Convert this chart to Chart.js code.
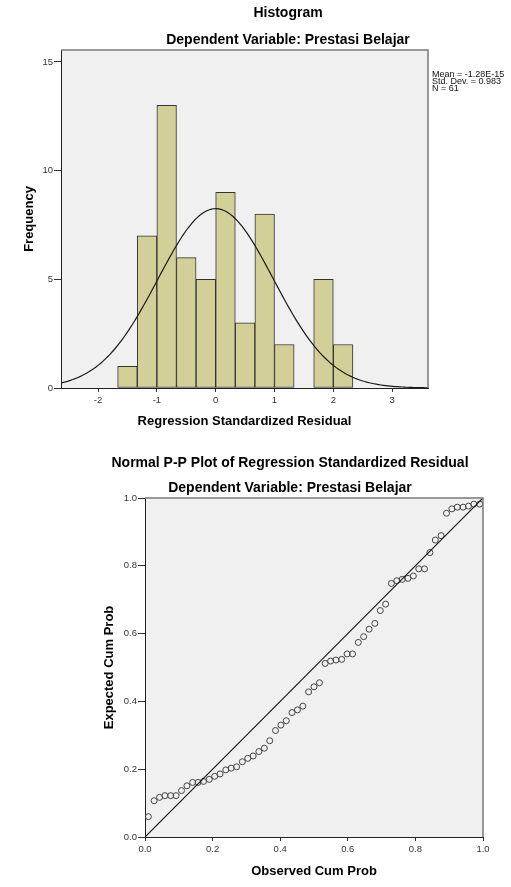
<!DOCTYPE html>
<html>
<head>
<meta charset="utf-8">
<script src="https://cdn.jsdelivr.net/npm/chart.js@4.4.1/dist/chart.umd.min.js"></script>
<style>
body { margin:0; background:#fff; width:511px; height:887px; overflow:hidden; position:relative; }
canvas { position:absolute; left:0; }
#hist { top:0; }
#pp { top:435px; }
</style>
</head>
<body>
<canvas id="hist" width="511" height="435"></canvas>
<canvas id="pp" width="511" height="452"></canvas>
<script>
// Histogram: bar centres and counts
const binCenters = [-1.5, -1.1667, -0.8333, -0.5, -0.1667, 0.1667, 0.5, 0.8333, 1.1667, 1.5, 1.8333, 2.1667];
const frequencies = [1, 7, 13, 6, 5, 9, 3, 8, 2, 0, 5, 2];
const binWidth = 0.3333;
const residTicks = [-2, -1, 0, 1, 2, 3];
const freqTicks = [0, 5, 10, 15];
const mean = -1.28e-15, stdDev = 0.983, nCases = 61;
const statLines = ['Mean = -1.28E-15', 'Std. Dev. = 0.983', 'N = 61'];

// P-P plot: observed vs expected cumulative probability
const observedCum = [0.010, 0.027, 0.043, 0.059, 0.076, 0.092, 0.108, 0.124, 0.141, 0.157,
  0.173, 0.190, 0.206, 0.222, 0.239, 0.255, 0.271, 0.288, 0.304, 0.320,
  0.337, 0.353, 0.369, 0.386, 0.402, 0.418, 0.435, 0.451, 0.467, 0.484,
  0.500, 0.516, 0.533, 0.549, 0.565, 0.582, 0.598, 0.614, 0.631, 0.647,
  0.663, 0.680, 0.696, 0.712, 0.729, 0.745, 0.761, 0.778, 0.794, 0.810,
  0.827, 0.843, 0.859, 0.876, 0.892, 0.908, 0.924, 0.941, 0.957, 0.973, 0.990];
const expectedCum = [0.060, 0.107, 0.117, 0.122, 0.122, 0.122, 0.137, 0.151, 0.161, 0.161,
  0.164, 0.170, 0.179, 0.186, 0.198, 0.203, 0.207, 0.222, 0.232, 0.239,
  0.252, 0.262, 0.284, 0.314, 0.330, 0.343, 0.367, 0.375, 0.386, 0.428,
  0.443, 0.455, 0.512, 0.519, 0.522, 0.524, 0.540, 0.540, 0.574, 0.591,
  0.613, 0.630, 0.668, 0.687, 0.748, 0.756, 0.760, 0.763, 0.770, 0.791,
  0.791, 0.839, 0.876, 0.889, 0.955, 0.968, 0.973, 0.973, 0.976, 0.982, 0.982];
const probTicks = [0, 0.2, 0.4, 0.6, 0.8, 1.0];

const FONT = '"Liberation Sans", Arial, sans-serif';

// grey plot background + frame on top/right
const plotFrame = {
  id: 'plotFrame',
  beforeDraw(chart) {
    const a = chart.chartArea, ctx = chart.ctx;
    ctx.save();
    ctx.fillStyle = '#f0f0f0';
    ctx.fillRect(a.left, a.top, a.right - a.left, a.bottom - a.top);
    ctx.restore();
  },
  afterDraw(chart) {
    const a = chart.chartArea, ctx = chart.ctx;
    ctx.save();
    ctx.strokeStyle = '#7a7a7a';
    ctx.lineWidth = 1.5;
    ctx.beginPath();
    ctx.moveTo(a.left, a.top);
    ctx.lineTo(a.right, a.top);
    ctx.lineTo(a.right, a.bottom);
    ctx.stroke();
    ctx.restore();
  }
};

// titles and side notes
const headings = {
  id: 'headings',
  afterDraw(chart, args, opts) {
    const ctx = chart.ctx;
    ctx.save();
    (opts.lines || []).forEach(l => {
      ctx.font = l.font;
      ctx.fillStyle = l.color || '#000';
      ctx.textAlign = l.align || 'center';
      ctx.textBaseline = 'alphabetic';
      ctx.fillText(l.text, l.x, l.y);
    });
    ctx.restore();
  }
};

function tickSet(list) {
  return scale => { scale.ticks = list.map(v => ({ value: v })); };
}

const tickFont = { family: FONT, size: 9.5 };
const titleFont = { family: FONT, size: 13, weight: 'bold' };

// normal curve from the reported mean / sd
const curve = [];
for (let x = -2.63; x <= 3.62; x += 0.04) {
  const z = (x - mean) / stdDev;
  curve.push({ x: x, y: nCases * binWidth * Math.exp(-0.5 * z * z) / (stdDev * Math.sqrt(2 * Math.PI)) });
}

new Chart(document.getElementById('hist'), {
  type: 'bar',
  data: {
    datasets: [
      { type: 'line', data: curve, borderColor: '#1a1a1a', borderWidth: 1.2, pointRadius: 0, order: 0 },
      { type: 'bar', data: binCenters.map((c, i) => ({ x: c, y: frequencies[i] })),
        backgroundColor: '#d3cf98', borderColor: '#333', borderWidth: 1, borderSkipped: false,
        barPercentage: 1, categoryPercentage: 1, order: 1 }
    ]
  },
  options: {
    responsive: false, animation: false, devicePixelRatio: 1,
    layout: { padding: { left: 22, right: 83, top: 50, bottom: 6 } },
    plugins: {
      legend: { display: false }, tooltip: { enabled: false },
      headings: { lines: [
        { text: 'Histogram', x: 288, y: 17, font: 'bold 14px ' + FONT },
        { text: 'Dependent Variable: Prestasi Belajar', x: 288, y: 44, font: 'bold 14px ' + FONT },
        { text: statLines[0], x: 432, y: 77, font: '9px ' + FONT, align: 'left', color: '#111' },
        { text: statLines[1], x: 432, y: 84, font: '9px ' + FONT, align: 'left', color: '#111' },
        { text: statLines[2], x: 432, y: 91, font: '9px ' + FONT, align: 'left', color: '#111' }
      ] }
    },
    scales: {
      x: {
        type: 'linear', min: -2.63, max: 3.61, offset: false,
        grid: { offset: false, drawOnChartArea: false, tickLength: 4, color: '#333' },
        border: { color: '#222', width: 1 },
        ticks: { font: tickFont, color: '#333', padding: 3 },
        afterBuildTicks: tickSet(residTicks),
        afterFit: s => { s.height = 41; },
        title: { display: true, text: 'Regression Standardized Residual', font: titleFont, color: '#000', padding: 0 }
      },
      y: {
        min: 0, max: 15.55,
        grid: { drawOnChartArea: false, tickLength: 7, color: '#333' },
        border: { color: '#222', width: 1 },
        ticks: { font: tickFont, color: '#333', padding: 1 },
        afterBuildTicks: tickSet(freqTicks),
        afterFit: s => { s.width = 39; },
        title: { display: true, text: 'Frequency', font: titleFont, color: '#000', padding: 0 }
      }
    }
  },
  plugins: [plotFrame, headings]
});

new Chart(document.getElementById('pp'), {
  type: 'scatter',
  data: {
    datasets: [
      { type: 'line', data: [{ x: 0, y: 0 }, { x: 1, y: 1 }], borderColor: '#1a1a1a', borderWidth: 1.2, pointRadius: 0, order: 0 },
      { data: observedCum.map((v, i) => ({ x: v, y: expectedCum[i] })),
        pointRadius: 3, pointBorderWidth: 1, borderColor: '#444', backgroundColor: 'rgba(0,0,0,0)', order: 1 }
    ]
  },
  options: {
    responsive: false, animation: false, devicePixelRatio: 1,
    layout: { padding: { left: 102, right: 28, top: 63, bottom: 7.5 } },
    plugins: {
      legend: { display: false }, tooltip: { enabled: false },
      headings: { lines: [
        { text: 'Normal P-P Plot of Regression Standardized Residual', x: 290, y: 32, font: 'bold 14px ' + FONT },
        { text: 'Dependent Variable: Prestasi Belajar', x: 290, y: 57, font: 'bold 14px ' + FONT }
      ] }
    },
    scales: {
      x: {
        type: 'linear', min: 0, max: 1,
        grid: { drawOnChartArea: false, tickLength: 4, color: '#333' },
        border: { color: '#222', width: 1 },
        ticks: { font: tickFont, color: '#333', padding: 3, callback: v => v.toFixed(1) },
        afterBuildTicks: tickSet(probTicks),
        afterFit: s => { s.height = 42.5; },
        title: { display: true, text: 'Observed Cum Prob', font: titleFont, color: '#000', padding: 0 }
      },
      y: {
        min: 0, max: 1,
        grid: { drawOnChartArea: false, tickLength: 7, color: '#333' },
        border: { color: '#222', width: 1 },
        ticks: { font: tickFont, color: '#333', padding: 1, callback: v => v.toFixed(1) },
        afterBuildTicks: tickSet(probTicks),
        afterFit: s => { s.width = 43; },
        title: { display: true, text: 'Expected Cum Prob', font: titleFont, color: '#000', padding: 0 }
      }
    }
  },
  plugins: [plotFrame, headings]
});
</script>
</body>
</html>
